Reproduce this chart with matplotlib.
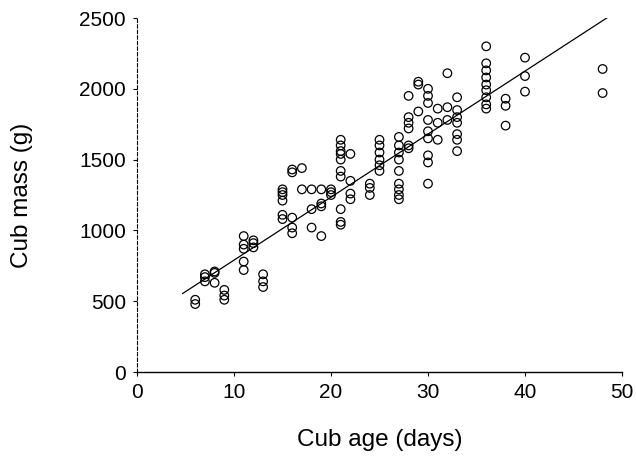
import matplotlib
matplotlib.use("Agg")
import matplotlib.pyplot as plt
import numpy as np

# Cub age (days) and cub mass (g)
ages = (
    [6, 6] + [7, 7, 7] + [8, 8, 8] + [9, 9, 9] + [11, 11, 11, 11, 11] + [12, 12, 12]
    + [13, 13, 13] + [15, 15, 15, 15, 15, 15] + [16, 16, 16, 16, 16] + [17, 17]
    + [18, 18, 18] + [19, 19, 19, 19] + [20, 20, 20]
    + [21] * 10 + [22, 22, 22, 22] + [24, 24, 24] + [25] * 6 + [27] * 9
    + [28] * 6 + [29, 29, 29] + [30] * 9 + [31, 31, 31] + [32, 32, 32] + [33] * 7
    + [36] * 9 + [38, 38, 38] + [40, 40, 40] + [48, 48]
)
masses = (
    [480, 510] + [640, 670, 690] + [630, 700, 710] + [510, 540, 580]
    + [720, 780, 870, 900, 960] + [880, 910, 930]
    + [600, 640, 690] + [1080, 1110, 1210, 1250, 1290, 1270]
    + [980, 1020, 1090, 1410, 1430] + [1290, 1440]
    + [1020, 1150, 1290] + [960, 1170, 1190, 1290] + [1250, 1270, 1290]
    + [1040, 1060, 1150, 1380, 1420, 1500, 1540, 1560, 1600, 1640]
    + [1220, 1260, 1350, 1540] + [1250, 1300, 1330]
    + [1420, 1460, 1500, 1550, 1600, 1640]
    + [1220, 1250, 1290, 1330, 1420, 1500, 1550, 1600, 1660]
    + [1580, 1600, 1720, 1760, 1800, 1950] + [1840, 2030, 2050]
    + [1330, 1480, 1530, 1650, 1700, 1780, 1900, 1950, 2000]
    + [1640, 1760, 1860] + [1780, 1870, 2110]
    + [1560, 1640, 1680, 1760, 1800, 1850, 1940]
    + [1860, 1890, 1940, 1990, 2030, 2080, 2130, 2180, 2300]
    + [1740, 1880, 1930] + [1980, 2090, 2220] + [1970, 2140]
)

# Regression line
line_intercept = 345
line_slope = 44.5
line_x = [4.7, 49.3]

x_ticks = [0, 10, 20, 30, 40, 50]
y_ticks = [0, 500, 1000, 1500, 2000, 2500]

plt.rcParams['font.family'] = ['Liberation Sans', 'DejaVu Sans']

fig = plt.figure(figsize=(6.36, 4.59), dpi=100)
ax = fig.add_axes([137/636, 1 - 372/459, (622-137)/636, (372-18)/459])

ax.scatter(ages, masses, s=38, facecolors='none', edgecolors='black', linewidths=0.9, zorder=3)
lx = np.array(line_x)
ax.plot(lx, line_intercept + line_slope * lx, color='black', linewidth=0.9)

ax.set_xlim(0, 50)
ax.set_ylim(0, 2500)
ax.set_xticks(x_ticks)
ax.set_yticks(y_ticks)
ax.spines['top'].set_visible(False)
ax.spines['right'].set_visible(False)
ax.spines['left'].set_linewidth(0.8)
ax.spines['bottom'].set_linewidth(1.0)
ax.spines['left'].set_linestyle((0, (3, 2)))
ax.tick_params(axis='both', labelsize=15, length=3, width=0.8, pad=5)
ax.set_xlabel('Cub age (days)', fontsize=17.5)
ax.set_ylabel('Cub mass (g)', fontsize=17.5)
ax.xaxis.set_label_coords(0.5, (372 - 440) / 354)
ax.xaxis.label.set_va('center')
ax.yaxis.set_label_coords((22 - 137) / 485, 0.5)
ax.yaxis.label.set_va('center')

fig.savefig('out.png', dpi=100)
